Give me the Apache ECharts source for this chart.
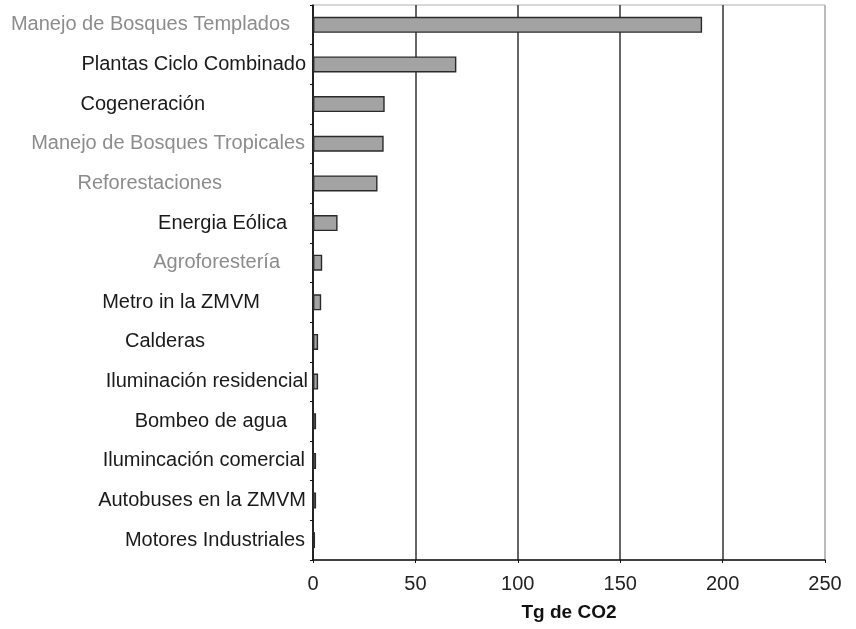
<!DOCTYPE html>
<html><head><meta charset="utf-8">
<script src="https://cdn.jsdelivr.net/npm/echarts@6/dist/echarts.min.js"></script>
<style>html,body{margin:0;padding:0;background:#fff}#c{width:856px;height:629px}</style>
</head><body><div id="c"></div>
<script>
const categories = ["Manejo de Bosques Templados","Plantas Ciclo Combinado","Cogeneración","Manejo de Bosques Tropicales","Reforestaciones","Energia Eólica","Agroforestería","Metro in la ZMVM","Calderas","Iluminación residencial","Bombeo de agua","Ilumincación comercial","Autobuses en la ZMVM","Motores Industriales"];
const values = [190, 70, 35, 34.5, 31.5, 12, 4.5, 4, 2.5, 2.5, 1.5, 1.5, 1.5, 1];
const xTicks = [0, 50, 100, 150, 200, 250];
// label styling (not data)
const labelColors = ["#8c8c8c","#1a1a1a","#1a1a1a","#8c8c8c","#8c8c8c","#1a1a1a","#8c8c8c","#1a1a1a","#1a1a1a","#1a1a1a","#1a1a1a","#1a1a1a","#1a1a1a","#1a1a1a"];
const labelGaps = [23, 7, 108, 8, 91, 26, 33, 53, 108, 5, 26, 8, 7, 8];

const rich = {};
labelColors.forEach((c, i) => { rich['s' + i] = {color: c, fontSize: 20, fontFamily: 'Liberation Sans, Arial, sans-serif', padding: [0, labelGaps[i], 0, 0]}; });

const chart = echarts.init(document.getElementById('c'));
chart.setOption({
  animation: false,
  backgroundColor: '#fff',
  grid: {left: 313, right: 31, top: 5, bottom: 69, show: true, borderColor: '#b0b0b0', borderWidth: 1},
  xAxis: {
    type: 'value', min: xTicks[0], max: xTicks[xTicks.length - 1], interval: 50,
    name: 'Tg de CO2', nameLocation: 'middle', nameGap: 43,
    nameTextStyle: {fontSize: 19, fontWeight: 'bold', color: '#111', fontFamily: 'Liberation Sans, Arial, sans-serif'},
    axisLine: {show: true, lineStyle: {color: '#111', width: 1.5}},
    axisTick: {show: true, length: 3, lineStyle: {color: '#111'}},
    axisLabel: {fontSize: 20, color: '#222', margin: 14, fontFamily: 'Liberation Sans, Arial, sans-serif'},
    splitLine: {show: true, lineStyle: {color: ['#333','#333','#333','#333','#333','#b0b0b0'], width: 1.5}}
  },
  yAxis: {
    type: 'category', data: categories, inverse: true,
    axisLine: {show: true, lineStyle: {color: '#111', width: 1.5}},
    axisTick: {show: true, length: 3, lineStyle: {color: '#111'}},
    axisLabel: {margin: 0, formatter: (v, i) => '{s' + i + '|' + v + '}', rich: rich},
    splitLine: {show: false}
  },
  series: [{
    type: 'bar', data: values, barWidth: 16,
    itemStyle: {color: '#a3a3a3', borderColor: '#2a2a2a', borderWidth: 1.4}
  }]
});
</script></body></html>
